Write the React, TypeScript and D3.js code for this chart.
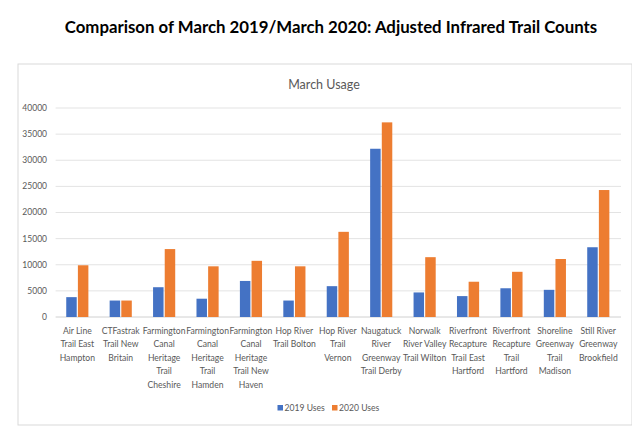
import React, { useEffect, useRef } from 'react'
import * as d3 from 'd3'

const trails = [
  'Air Line Trail East Hampton',
  'CTFastrak Trail New Britain',
  'Farmington Canal Heritage Trail Cheshire',
  'Farmington Canal Heritage Trail Hamden',
  'Farmington Canal Heritage Trail New Haven',
  'Hop River Trail Bolton',
  'Hop River Trail Vernon',
  'Naugatuck River Greenway Trail Derby',
  'Norwalk River Valley Trail Wilton',
  'Riverfront Recapture Trail East Hartford',
  'Riverfront Recapture Trail Hartford',
  'Shoreline Greenway Trail Madison',
  'Still River Greenway Brookfield',
]

// wrapped tick labels, as they appear under each group
const tickLines = [
  ['Air Line', 'Trail East', 'Hampton'],
  ['CTFastrak', 'Trail New', 'Britain'],
  ['Farmington', 'Canal', 'Heritage', 'Trail', 'Cheshire'],
  ['Farmington', 'Canal', 'Heritage', 'Trail', 'Hamden'],
  ['Farmington', 'Canal', 'Heritage', 'Trail New', 'Haven'],
  ['Hop River', 'Trail Bolton'],
  ['Hop River', 'Trail', 'Vernon'],
  ['Naugatuck', 'River', 'Greenway', 'Trail Derby'],
  ['Norwalk', 'River Valley', 'Trail Wilton'],
  ['Riverfront', 'Recapture', 'Trail East', 'Hartford'],
  ['Riverfront', 'Recapture', 'Trail', 'Hartford'],
  ['Shoreline', 'Greenway', 'Trail', 'Madison'],
  ['Still River', 'Greenway', 'Brookfield'],
]

const uses2019 = [3800, 3150, 5700, 3500, 6900, 3150, 5900, 32200, 4700, 4000, 5500, 5200, 13350]
const uses2020 = [9900, 3150, 13000, 9700, 10750, 9700, 16300, 37250, 11450, 6750, 8650, 11100, 24300]

const series = ['2019 Uses', '2020 Uses']
const colors = ['#4472C4', '#ED7D31']
const yTicks = [0, 5000, 10000, 15000, 20000, 25000, 30000, 35000, 40000]

const App: React.FC = () => {
  const svgRef = useRef<SVGSVGElement | null>(null)

  useEffect(() => {
    if (!svgRef.current) return
    const svg = d3.select(svgRef.current)
    svg.selectAll('*').remove()

    const width = 640
    const height = 436
    const margin = { top: 108, right: 20, bottom: 119, left: 55.6 }
    const font = 'Lato, "Open Sans", sans-serif'

    svg.attr('width', width).attr('height', height).attr('viewBox', [0, 0, width, height])

    svg.append('rect').attr('width', width).attr('height', height).attr('fill', '#fff')

    svg
      .append('text')
      .attr('x', 331)
      .attr('y', 33)
      .attr('text-anchor', 'middle')
      .attr('font-family', font)
      .attr('font-weight', 'bold')
      .attr('font-size', 16.8)
      .attr('fill', '#000')
      .text('Comparison of March 2019/March 2020: Adjusted Infrared Trail Counts')

    // chart frame
    svg
      .append('rect')
      .attr('x', 18)
      .attr('y', 64)
      .attr('width', 614)
      .attr('height', 361)
      .attr('fill', '#fff')
      .attr('stroke', '#d9d9d9')
      .attr('stroke-width', 1)

    svg
      .append('text')
      .attr('x', 324)
      .attr('y', 89)
      .attr('text-anchor', 'middle')
      .attr('font-family', font)
      .attr('font-size', 12.5)
      .attr('fill', '#595959')
      .text('March Usage')

    const x0 = d3
      .scaleBand()
      .domain(trails)
      .range([margin.left, width - margin.right])
      .paddingInner(0.49)
      .paddingOuter(0.245)

    const x1 = d3.scaleBand().domain(series).range([0, x0.bandwidth()]).paddingInner(0.1)

    const y = d3
      .scaleLinear()
      .domain([0, 40000])
      .range([height - margin.bottom, margin.top])

    const grid = svg.append('g')
    grid
      .selectAll('line')
      .data(yTicks)
      .join('line')
      .attr('x1', margin.left)
      .attr('x2', 621)
      .attr('y1', d => y(d))
      .attr('y2', d => y(d))
      .attr('stroke', d => (d === 0 ? '#d0d0d0' : '#e3e3e3'))
      .attr('stroke-width', 1)

    svg
      .append('g')
      .attr('font-family', font)
      .attr('font-size', 8.5)
      .attr('fill', '#595959')
      .attr('text-anchor', 'end')
      .selectAll('text')
      .data(yTicks)
      .join('text')
      .attr('x', 47)
      .attr('y', d => y(d))
      .attr('dy', '0.35em')
      .text(d => d)

    const rows = trails.map((t, i) => ({ trail: t, values: [uses2019[i], uses2020[i]] }))

    svg
      .append('g')
      .selectAll('g')
      .data(rows)
      .join('g')
      .attr('transform', d => `translate(${x0(d.trail)},0)`)
      .selectAll('rect')
      .data(d => d.values.map((v, j) => ({ key: series[j], v, j })))
      .join('rect')
      .attr('x', d => x1(d.key)!)
      .attr('y', d => y(d.v))
      .attr('width', x1.bandwidth())
      .attr('height', d => y(0) - y(d.v))
      .attr('fill', d => colors[d.j])

    const labels = svg
      .append('g')
      .attr('font-family', font)
      .attr('font-size', 8.6)
      .attr('fill', '#595959')
      .attr('text-anchor', 'middle')
      .selectAll('text')
      .data(trails)
      .join('text')
      .attr('x', d => x0(d)! + x0.bandwidth() / 2)
      .attr('y', 334)

    labels
      .selectAll('tspan')
      .data((d, i) => tickLines[i])
      .join('tspan')
      .attr('x', function () {
        return (this.parentNode as SVGTextElement).getAttribute('x')
      })
      .attr('dy', (d, i) => (i === 0 ? 0 : 13.4))
      .text(d => d)

    // legend
    const legend = svg
      .append('g')
      .attr('font-family', font)
      .attr('font-size', 8.6)
      .attr('fill', '#595959')
    const legendX = [277.5, 332]
    series.forEach((s, i) => {
      legend
        .append('rect')
        .attr('x', legendX[i])
        .attr('y', 405)
        .attr('width', 5.5)
        .attr('height', 5.5)
        .attr('fill', colors[i])
      legend
        .append('text')
        .attr('x', legendX[i] + 7)
        .attr('y', 408)
        .attr('dy', '0.35em')
        .text(s)
    })
  }, [])

  return (
    <div style={{ margin: -8 }}>
      <svg ref={svgRef}></svg>
    </div>
  )
}

export default App
